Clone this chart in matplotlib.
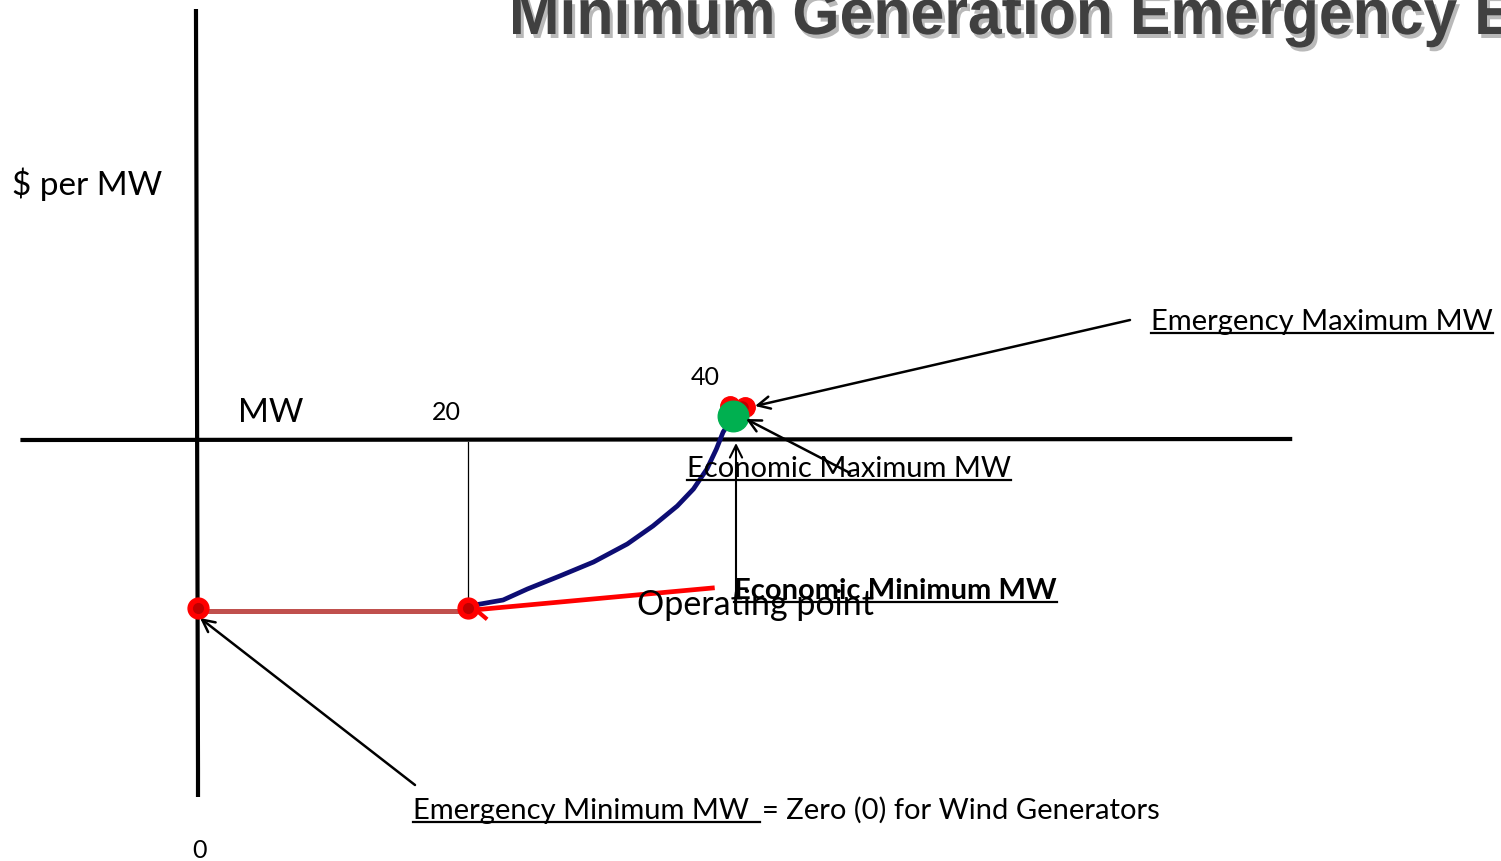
import matplotlib
matplotlib.use('Agg')
import matplotlib.pyplot as plt
import matplotlib.patheffects as pe
from matplotlib.textpath import TextPath
from matplotlib.patches import PathPatch
from matplotlib.font_manager import FontProperties
from matplotlib.transforms import Affine2D

# schematic values (x in MW, y in $ per MW, arbitrary units)
tick_mw = [0, 20, 40]
tick_labels = ['0', '20', '40']
floor_mw = [0, 20]
floor_price = [-17.2, -17.2]
min_points_mw = [0, 20]
min_points_price = [-16.9, -16.9]
curve_mw = [20.5, 22.6, 24.4, 26.8, 29.3, 31.8, 33.7, 35.5, 36.7, 37.7, 38.4, 38.9, 39.3]
curve_price = [-16.6, -16.1, -15.0, -13.7, -12.3, -10.5, -8.7, -6.7, -5.0, -3.0, -1.0, 0.7, 1.5]
op_mw = [20.4, 38.1]
op_price = [-17.1, -14.9]
hook_mw = [20.6, 21.3]
hook_price = [-17.1, -17.9]
emerg_max_mw = [39.4, 40.5]
emerg_max_price = [3.3, 3.2]
econ_max_mw = 39.6
econ_max_price = 2.3

W, H = 1501, 862
X0, Y0, SX, SY = 198, 440, 13.5, 10.0  # origin pixel and pixels per unit

fig = plt.figure(figsize=(W / 100, H / 100), dpi=100)
ax = fig.add_axes([0, 0, 1, 1])
ax.set_xlim(-X0 / SX, (W - X0) / SX)
ax.set_ylim((Y0 - H) / SY, Y0 / SY)
ax.axis('off')


def P(px, py):
    # pixel position -> data position (for text layout)
    return (px - X0) / SX, (Y0 - py) / SY


FONT = 'Lato'

# axes
ax.plot([-0.15, 0.0, 0.0], [43, -33, -35.8], color='black', lw=3, solid_capstyle='butt')
ax.plot([-13.0, 80.9], [-0.1, 0.0], color='black', lw=3)

# title: bold narrow lettering with a soft shadow, cut off by the top edge
fp = FontProperties(family='Liberation Sans', weight='bold')
title = 'Minimum Generation Emergency E'
tp = TextPath((0, 0), title, size=64, prop=fp)
ext = TextPath((0, 0), 'Minimum Generation Emergency', size=64, prop=fp).get_extents()
sx = 944 / ext.width
base = Affine2D().scale(sx, 1).translate(513 - ext.x0 * sx, H - 35)
fig.add_artist(PathPatch(tp, transform=base + Affine2D().translate(3, -4),
                         facecolor='#a8a8a8', edgecolor='none', alpha=0.8))
fig.add_artist(PathPatch(tp, transform=base, facecolor='#404040', edgecolor='none'))

ax.text(*P(12, 195), '$ per MW', fontsize=24, family=FONT, va='baseline', ha='left')
ax.text(*P(238, 422), 'MW', fontsize=24, family=FONT, va='baseline', ha='left')
ax.text(*P(446, 420), tick_labels[1], fontsize=18, family=FONT, va='baseline', ha='center')
ax.text(*P(705, 385), tick_labels[2], fontsize=18, family=FONT, va='baseline', ha='center')
ax.text(*P(200, 858), tick_labels[0], fontsize=18, family=FONT, va='baseline', ha='center')

# thin drop line at economic minimum
ax.plot([tick_mw[1], tick_mw[1]], [-0.3, -17.0], color='black', lw=0.9)

# floor line and operating curve
ax.plot(floor_mw, floor_price, color='#c0504d', lw=3.6, solid_capstyle='butt')
ax.plot(op_mw, op_price, color='#ff0000', lw=3.4)
ax.plot(hook_mw, hook_price, color='#ff0000', lw=3)
ax.plot(curve_mw, curve_price, color='#0d0d73', lw=3.4, solid_capstyle='round')

ax.plot(min_points_mw, min_points_price, 'o', color='#ff0000', ms=15, zorder=5)
ax.plot(min_points_mw, min_points_price, 'o', color='#c00000', ms=7, zorder=6)
ax.plot(emerg_max_mw, emerg_max_price, 'o', color='#ff0000', ms=14, zorder=5)
ax.plot([emerg_max_mw[1] - 0.2], [emerg_max_price[1]], 'o', color='#c00000', ms=8, zorder=5)
ax.plot([econ_max_mw], [econ_max_price], 'o', color='#00b050', ms=22, zorder=6)

# arrows
arrow = dict(arrowstyle='->', color='black', lw=1.8, mutation_scale=22, shrinkA=0, shrinkB=0)
ax.annotate('', xy=P(755, 407), xytext=P(1130, 321), arrowprops=arrow)
ax.annotate('', xy=P(746, 420), xytext=P(850, 474), arrowprops=arrow, zorder=7)
ax.annotate('', xy=P(736, 444), xytext=P(736, 596), arrowprops=dict(arrow, lw=1.5))
ax.annotate('', xy=P(200, 619), xytext=P(415, 786), arrowprops=arrow)


def label(px, py, s, size, weight='normal', underline_to=None):
    txt = ax.text(*P(px, py), s, fontsize=size, family=FONT, weight=weight,
                  va='baseline', ha='left', zorder=8)
    fig.canvas.draw()
    bb = txt.get_window_extent()
    x_end = underline_to if underline_to is not None else bb.x1
    uy = py + 4
    x1, y1 = P(px, uy)
    x2, _ = P(x_end, uy)
    ax.plot([x1, x2], [y1, y1], color='black', lw=1.6, zorder=8)
    return txt


label(1151, 330, 'Emergency Maximum MW', 21)
label(687, 477, 'Economic Maximum MW', 21)
ax.text(*P(637, 615), 'Operating point', fontsize=24.5, family=FONT, va='baseline', ha='left', zorder=7)
label(734, 599, 'Economic Minimum MW', 21, weight='bold')
label(413, 819, 'Emergency Minimum MW ', 21, underline_to=760)
ax.text(*P(762, 819), '= Zero (0) for Wind Generators', fontsize=21, family=FONT,
        va='baseline', ha='left')

fig.savefig('out.png', dpi=100)
